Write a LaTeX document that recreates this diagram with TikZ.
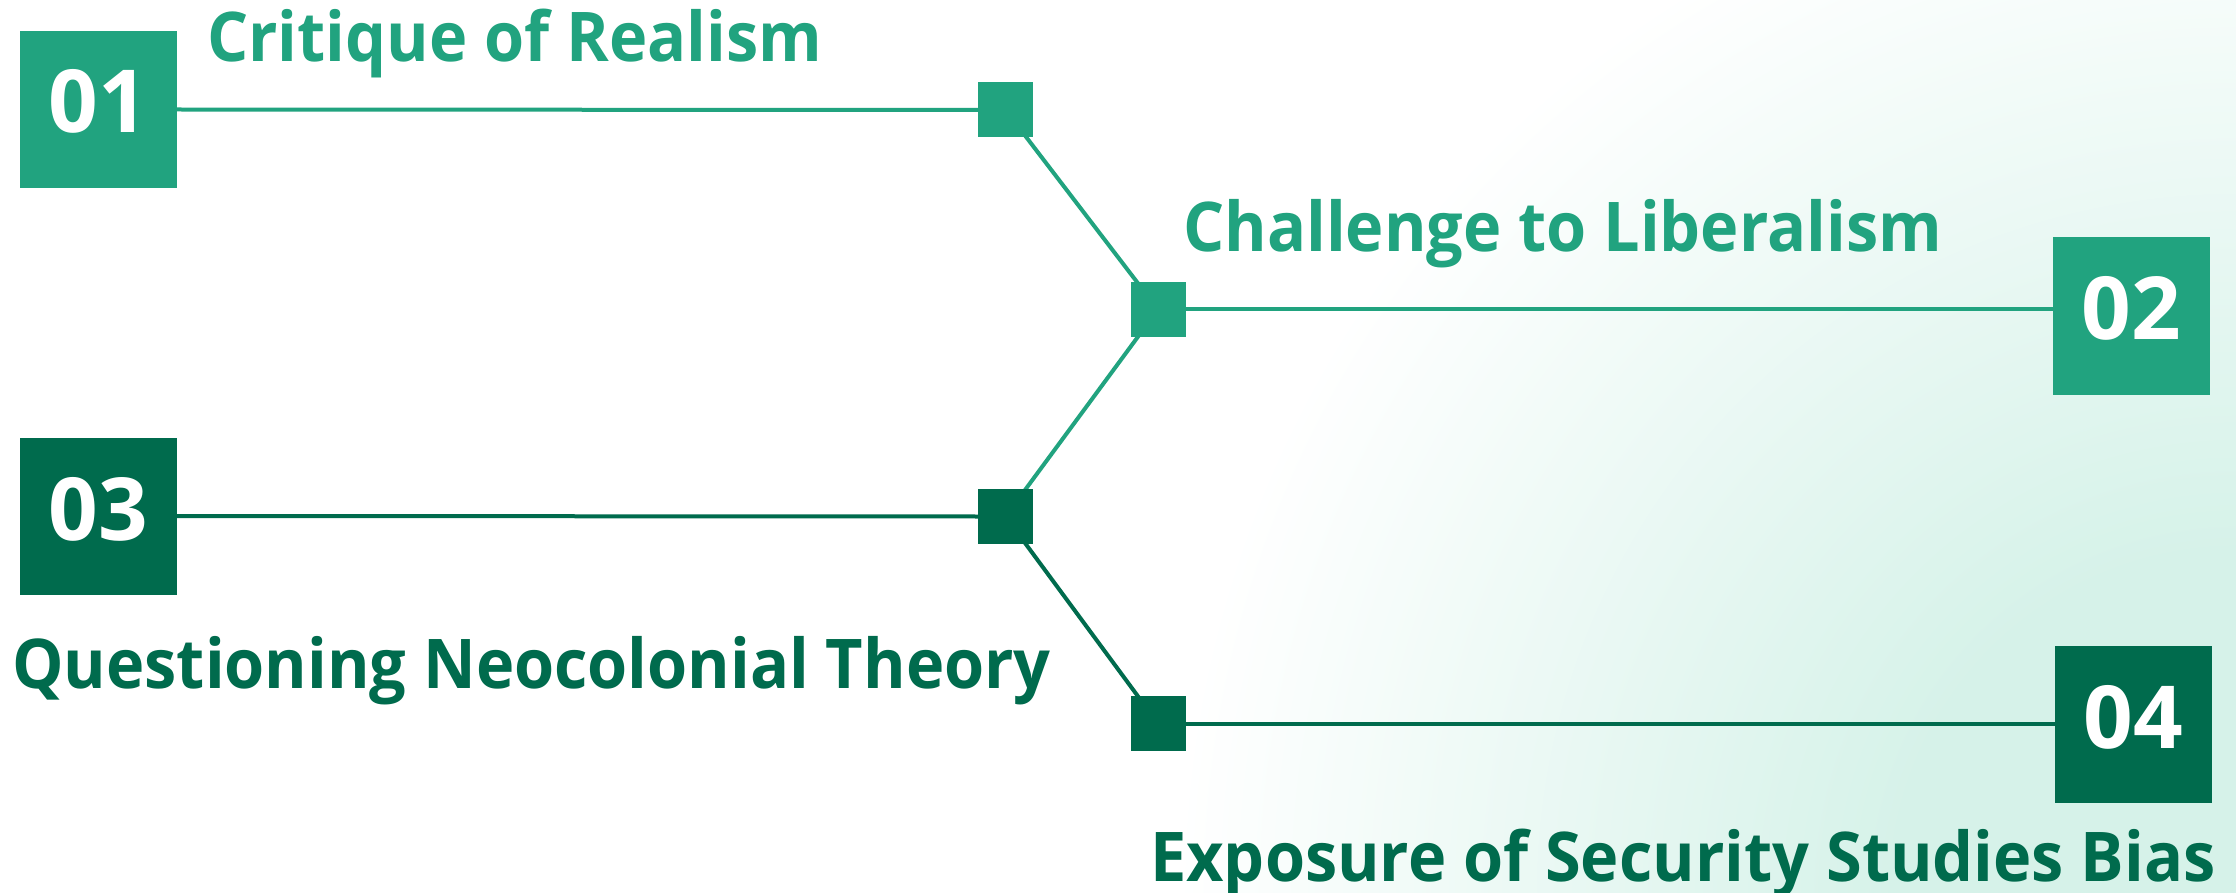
\documentclass[tikz,border=0pt]{standalone}
\usepackage{fontspec}
\setmainfont{Open Sans}
\newfontfamily\lblfont{Open Sans}[FakeStretch=0.945]
\definecolor{lightg}{RGB}{33,163,127}
\definecolor{darkg}{RGB}{0,107,77}
\definecolor{mint}{RGB}{214,242,233}
\pgfdeclareradialshading{bgshade}{\pgfpoint{0bp}{0bp}}{color(0bp)=(mint); color(8bp)=(mint); color(25bp)=(white); color(50bp)=(white)}
\begin{document}
\begin{tikzpicture}[x=1pt,y=-1pt,
  bigbox/.style={rectangle, minimum size=157pt, inner sep=0pt, outer sep=0pt},
  smallsq/.style={rectangle, minimum size=55pt, inner sep=0pt, outer sep=0pt},
  digit/.style={text=white, inner sep=0pt, anchor=base, font=\bfseries\fontsize{87}{90}\selectfont},
  lbl/.style={inner sep=0pt, anchor=base west, font=\lblfont\bfseries\fontsize{68.6}{80}\selectfont},
  conn/.style={line width=4pt}]
\useasboundingbox (0,0) rectangle (2236,893);
\fill[white] (0,0) rectangle (2236,893);
\begin{scope}
\clip (0,0) rectangle (2236,893);
\shade[shading=bgshade] (2236,893) circle (1060);
\end{scope}
% connectors first (behind)
\coordinate (c1) at (1005.5,110);
\coordinate (c2) at (1158,309.5);
\coordinate (c3) at (1005.5,516.5);
\coordinate (c4) at (1158,723.5);
\node[bigbox, fill=lightg] (b1) at (98.5,109.5) {};
\node[bigbox, fill=lightg] (b2) at (2131.5,316) {};
\node[bigbox, fill=darkg] (b3) at (98.5,516) {};
\node[bigbox, fill=darkg] (b4) at (2133,724) {};
\draw[conn, lightg] (c1) -- (c2);
\draw[conn, lightg] (c2) -- (c3);
\draw[conn, darkg] (c3) -- (c4);
\node[smallsq, fill=lightg] (s1) at (c1) {};
\node[smallsq, fill=lightg] (s2) at (c2) {};
\node[smallsq, fill=darkg] (s3) at (c3) {};
\node[smallsq, fill=darkg] (s4) at (c4) {};
\draw[conn, lightg] (b1.east) -- (s1.west);
\draw[conn, lightg] (s2.east) -- (s2.east -| b2.west);
\draw[conn, darkg] (b3.east) -- (s3.west);
\draw[conn, darkg] (s4.east) -- (s4.east -| b4.west);
% digits
\node[digit] (d1) at (98.5,133) {01};
\node[digit] (d2) at (2131.5,340) {02};
\node[digit] (d3) at (98.5,540) {03};
\node[digit] (d4) at (2133,748) {04};
% labels
\node[lbl, text=lightg] (t1) at (207,62) {Critique of Realism};
\node[lbl, text=lightg] (t2) at (1183,252) {Challenge to Liberalism};
\node[lbl, text=darkg] (t3) at (12,688) {Questioning Neocolonial Theory};
\node[lbl, text=darkg] (t4) at (1150,881) {Exposure of Security Studies Bias};
\end{tikzpicture}
\end{document}
